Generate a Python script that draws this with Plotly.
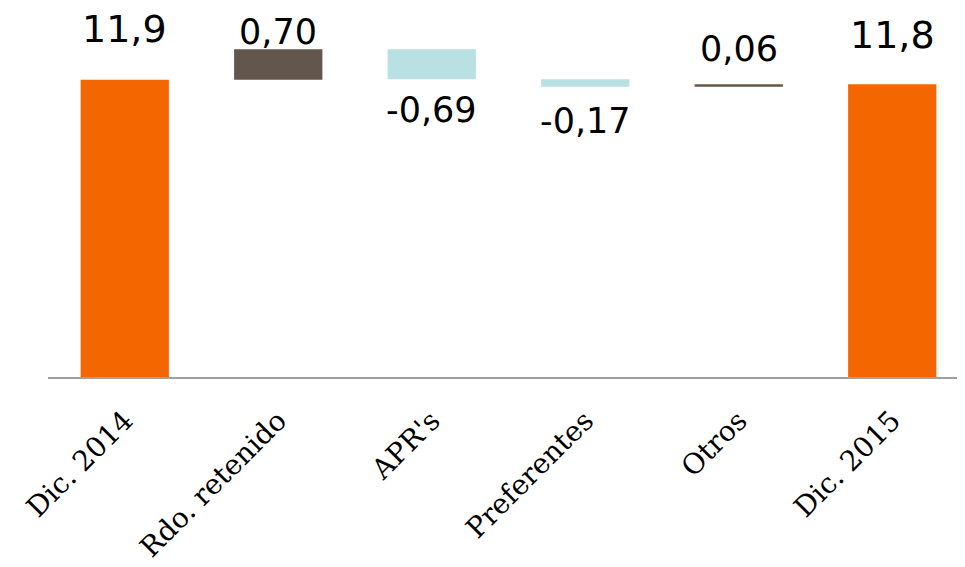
import plotly.graph_objects as go

categories = ["Dic. 2014", "Rdo. retenido", "APR's", "Preferentes", "Otros", "Dic. 2015"]
values = [11.9, 0.70, -0.69, -0.17, 0.06, 11.8]
measures = ["absolute", "relative", "relative", "relative", "relative", "total"]
value_labels = ["11,9", "0,70", "-0,69", "-0,17", "0,06", "11,8"]

ORANGE = "#f46600"
BROWN = "#63564c"
TEAL = "#b9e0e3"

fig = go.Figure(go.Waterfall(
    x=categories,
    y=values,
    measure=measures,
    totals=dict(marker=dict(color=ORANGE)),
    increasing=dict(marker=dict(color=BROWN)),
    decreasing=dict(marker=dict(color=TEAL)),
    connector=dict(visible=False),
    textposition="none",
    hoverinfo="skip",
))

# label placement (offsets in px)
shifts = [51, 17, -31, -34, 35, 49]
sizes = [38, 35, 35, 35, 35, 38]

level = 0.0
for i, (cat, v, m, lab) in enumerate(zip(categories, values, measures, value_labels)):
    if m == "absolute":
        start, end = 0.0, v
        level = v
    elif m == "total":
        start, end = 0.0, level
    else:
        start, end = level, level + v
        level = level + v
    top = max(start, end)
    bottom = min(start, end)
    anchor_y = bottom if v < 0 and m == "relative" else top
    fig.add_annotation(
        x=cat, y=anchor_y, xref="x", yref="y",
        text=lab, showarrow=False, yanchor="middle", xanchor="center",
        yshift=shifts[i], borderpad=0,
        font=dict(family="DejaVu Sans", size=sizes[i], color="#000000"),
    )

fig.update_layout(
    width=965, height=567,
    margin=dict(l=40, r=4, t=0, b=198, autoexpand=False),
    paper_bgcolor="white", plot_bgcolor="white",
    showlegend=False,
    waterfallgap=0.425,
    xaxis=dict(
        showline=True, linecolor="#a0a0a0", linewidth=2,
        showgrid=False, zeroline=False, ticks="",
        tickangle=-45, automargin=False, ticklabelstandoff=14,
        tickfont=dict(family="DejaVu Serif", size=28, color="#000000"),
    ),
    yaxis=dict(
        range=[5.07, 13.55], visible=False, showgrid=False, zeroline=False,
        automargin=False,
    ),
)

fig.write_html("out.html")
